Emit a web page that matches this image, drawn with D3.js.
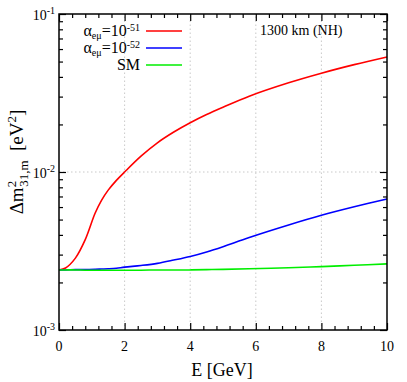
<!DOCTYPE html>
<html>
<head>
<meta charset="utf-8">
<script src="https://cdn.jsdelivr.net/npm/d3@7"></script>
<style>
  body { margin: 0; background: #fff; }
  svg text { font-family: 'Liberation Serif', 'DejaVu Serif', serif !important; }
</style>
</head>
<body>
<div id="chart"></div>
<script>
const energy = [0, 0.2, 0.5, 0.8, 1.1, 1.3, 1.5, 1.75, 2.0, 2.5, 3.0, 3.5, 4.0, 4.5, 5.0, 5.8, 7.0, 8.0, 9.0, 10.0];
const alpha51 = [0.0024, 0.00247, 0.00285, 0.00373, 0.00548, 0.00664, 0.00768, 0.00885, 0.0100, 0.0126, 0.0153, 0.0179, 0.0205, 0.0231, 0.0257, 0.0302, 0.0367, 0.0422, 0.0478, 0.0535];
const alpha52 = [0.0024, 0.0024, 0.00241, 0.00241, 0.00242, 0.00243, 0.00244, 0.00246, 0.0025, 0.00256, 0.00264, 0.00277, 0.00292, 0.00312, 0.00337, 0.00385, 0.00462, 0.00532, 0.00602, 0.00675];
const sm = [0.0024, 0.0024, 0.0024, 0.00239, 0.00239, 0.00239, 0.00239, 0.00239, 0.00239, 0.00239, 0.0024, 0.0024, 0.0024, 0.00241, 0.00242, 0.00244, 0.00248, 0.00252, 0.00257, 0.00262];

const seriesNames = ['51', '52', 'SM'];
const seriesColors = ['#ff0000', '#0000ff', '#00ee00'];
const xTicks = [0, 2, 4, 6, 8, 10];
const yTicks = [1e-3, 1e-2, 1e-1];

const width = 407, height = 382;
const margin = { top: 14, right: 20, bottom: 52, left: 59 };

const svg = d3.select('#chart')
  .append('svg')
  .attr('width', width)
  .attr('height', height);

const x = d3.scaleLinear()
  .domain([0, 10])
  .range([margin.left, width - margin.right]);

const y = d3.scaleLog()
  .domain([1e-3, 1e-1])
  .range([height - margin.bottom, margin.top]);

const x0 = x.range()[0], x1 = x.range()[1];
const y0 = y.range()[0], y1 = y.range()[1];

// grid
svg.append('g')
  .selectAll('line')
  .data(xTicks.slice(1, -1))
  .join('line')
  .attr('x1', d => x(d)).attr('x2', d => x(d))
  .attr('y1', y0).attr('y2', y1)
  .attr('stroke', '#bbb').attr('stroke-width', 0.8).attr('stroke-dasharray', '1.5,2.5');

svg.append('g')
  .selectAll('line')
  .data([1e-2])
  .join('line')
  .attr('x1', x0).attr('x2', x1)
  .attr('y1', d => y(d)).attr('y2', d => y(d))
  .attr('stroke', '#bbb').attr('stroke-width', 0.8).attr('stroke-dasharray', '1.5,2.5');

// minor tick values
const xMinor = d3.range(0, 10.001, 0.4).filter(v => xTicks.every(t => Math.abs(t - v) > 1e-6));
const yMinor = [];
[1e-3, 1e-2].forEach(dec => { for (let k = 2; k <= 9; k++) yMinor.push(dec * k); });

function drawAxis(axis, transform) {
  const g = svg.append('g').attr('transform', transform).call(axis);
  g.select('.domain').remove();
  g.selectAll('.tick line').attr('stroke', '#000').attr('stroke-width', 1.2);
  g.selectAll('.tick text').remove();
  return g;
}

drawAxis(d3.axisBottom(x).tickValues(xTicks).tickSize(-7), `translate(0,${y0})`);
drawAxis(d3.axisBottom(x).tickValues(xMinor).tickSize(-4), `translate(0,${y0})`);
drawAxis(d3.axisTop(x).tickValues(xTicks).tickSize(-7), `translate(0,${y1})`);
drawAxis(d3.axisTop(x).tickValues(xMinor).tickSize(-4), `translate(0,${y1})`);
drawAxis(d3.axisLeft(y).tickValues(yTicks).tickSize(-7), `translate(${x0},0)`);
drawAxis(d3.axisLeft(y).tickValues(yMinor).tickSize(-4), `translate(${x0},0)`);
drawAxis(d3.axisRight(y).tickValues(yTicks).tickSize(-7), `translate(${x1},0)`);
drawAxis(d3.axisRight(y).tickValues(yMinor).tickSize(-4), `translate(${x1},0)`);

// curves
const line = d3.line()
  .x(d => x(d[0]))
  .y(d => y(d[1]))
  .curve(d3.curveCatmullRom.alpha(0.5));

[alpha51, alpha52, sm].forEach((vals, i) => {
  svg.append('path')
    .datum(d3.zip(energy, vals))
    .attr('fill', 'none')
    .attr('stroke', seriesColors[i])
    .attr('stroke-width', 1.6)
    .attr('d', line);
});

// frame
svg.append('rect')
  .attr('x', x0).attr('y', y1)
  .attr('width', x1 - x0).attr('height', y0 - y1)
  .attr('fill', 'none').attr('stroke', '#000').attr('stroke-width', 1.5);

// x tick labels
svg.append('g')
  .selectAll('text')
  .data(xTicks)
  .join('text')
  .attr('x', d => x(d))
  .attr('y', y0 + 21)
  .attr('text-anchor', 'middle')
  .attr('font-size', 14)
  .text(d => d);

// y tick labels
svg.append('g')
  .selectAll('text')
  .data(yTicks)
  .join('text')
  .attr('x', x0 - 4)
  .attr('y', d => y(d) + 6)
  .attr('text-anchor', 'end')
  .attr('font-size', 14)
  .each(function(d) {
    const t = d3.select(this);
    t.append('tspan').text('10');
    t.append('tspan').attr('dy', -6).attr('font-size', 10).text(Math.round(Math.log10(d)));
  });

// axis titles
svg.append('text')
  .attr('x', 222)
  .attr('y', 376)
  .attr('text-anchor', 'middle')
  .attr('font-size', 18)
  .text('E [GeV]');

const yl = svg.append('text')
  .attr('transform', `translate(23,162) rotate(-90)`)
  .attr('text-anchor', 'middle')
  .attr('font-size', 19);
yl.append('tspan').text('Δm');
yl.append('tspan').attr('dy', -7).attr('font-size', 13).text('2');
yl.append('tspan').attr('dx', -6).attr('dy', 12).attr('font-size', 13).text('31,m');
yl.append('tspan').attr('dy', -5).text('\u00a0\u00a0[eV');
yl.append('tspan').attr('dy', -7).attr('font-size', 13).text('2');
yl.append('tspan').attr('dy', 7).text(']');

// legend
const legend = svg.append('g');
seriesNames.forEach((name, i) => {
  const ly = 31 + i * 17;
  const t = legend.append('text')
    .attr('x', 140)
    .attr('y', ly + 5)
    .attr('text-anchor', 'end')
    .attr('font-size', 16);
  if (name === 'SM') {
    t.text('SM');
  } else {
    t.append('tspan').text('α');
    t.append('tspan').attr('dy', 3).attr('font-size', 10).text('eμ');
    t.append('tspan').attr('dy', -3).text('=10');
    t.append('tspan').attr('dy', -5).attr('font-size', 10).text('-' + name);
  }
  legend.append('line')
    .attr('x1', 146).attr('x2', 182)
    .attr('y1', ly).attr('y2', ly)
    .attr('stroke', seriesColors[i])
    .attr('stroke-width', 1.6);
});

svg.append('text')
  .attr('x', 260)
  .attr('y', 35)
  .attr('font-size', 14)
  .text('1300 km (NH)');
</script>
</body>
</html>
